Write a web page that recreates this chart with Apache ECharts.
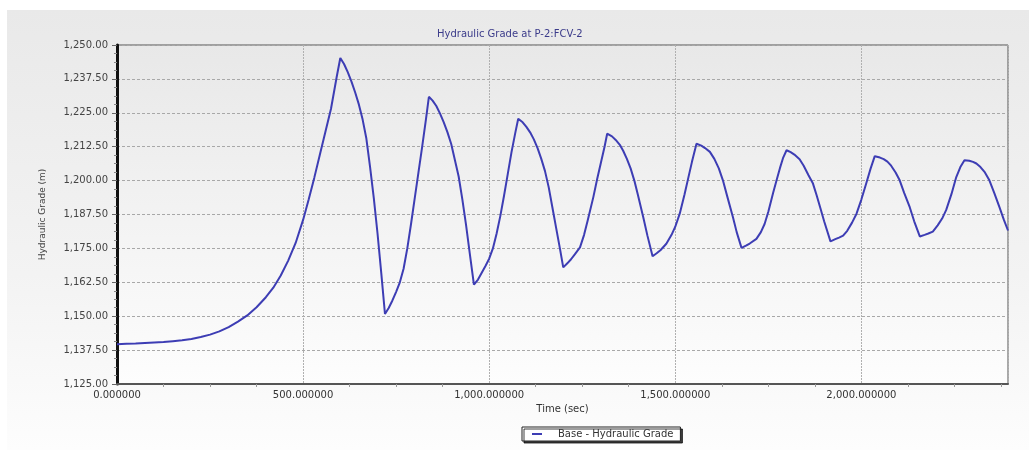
<!DOCTYPE html>
<html>
<head>
<meta charset="utf-8">
<script src="https://cdn.jsdelivr.net/npm/echarts@6/dist/echarts.min.js"></script>
<style>
  html, body { margin: 0; padding: 0; background: #ffffff; }
  #panel { position: absolute; left: 7px; top: 10px; width: 1022px; height: 440px;
           background: linear-gradient(to bottom, #e9e9e9 0%, #f3f3f3 60%, #fdfdfd 100%); }
  #chart { position: absolute; left: 0; top: 0; width: 1029px; height: 458px; }
</style>
</head>
<body>
<div id="panel"></div>
<div id="chart"></div>
<script>
// Time (sec)
var times = [
  0, 25, 50, 75, 100, 125, 150, 175, 200, 225, 250, 275, 300, 325, 350, 375, 400, 420, 440, 460,
  480, 500, 515, 530, 545, 560, 575, 590, 600,
  610, 620, 630, 640, 650, 660, 670, 680, 690, 700, 710, 720,
  730, 740, 750, 760, 770, 780, 790, 800, 810, 820, 830, 838,
  848, 858, 868, 878, 888, 898, 908, 918, 928, 938, 948, 959,
  970, 980, 990, 1000, 1010, 1020, 1030, 1040, 1050, 1060, 1070, 1078,
  1090, 1100, 1110, 1120, 1130, 1140, 1150, 1160, 1170, 1180, 1190, 1199,
  1210, 1220, 1230, 1244, 1255, 1265, 1280, 1290, 1300, 1310, 1317,
  1330, 1340, 1351, 1360, 1370, 1380, 1390, 1400, 1414, 1425, 1439,
  1450, 1460, 1476, 1490, 1500, 1512, 1525, 1535, 1545, 1557,
  1570, 1580, 1593, 1605, 1617, 1628, 1640, 1655, 1665, 1678,
  1690, 1700, 1718, 1730, 1740, 1750, 1763, 1772, 1781, 1790, 1799,
  1810, 1820, 1834, 1845, 1858, 1870, 1880, 1890, 1900, 1917,
  1930, 1940, 1951, 1962, 1975, 1987, 2000, 2013, 2025, 2036,
  2050, 2060, 2070, 2080, 2092, 2103, 2115, 2130, 2142, 2157,
  2170, 2180, 2192, 2205, 2217, 2228, 2242, 2255, 2266, 2277,
  2290, 2300, 2309, 2320, 2332, 2344, 2357, 2371, 2383, 2394];
// Hydraulic Grade (m)
var grades = [
  1139.7, 1139.8, 1139.9, 1140.1, 1140.3, 1140.5, 1140.8, 1141.1, 1141.6, 1142.3, 1143.2, 1144.4,
  1146.0, 1148.0, 1150.3, 1153.3, 1157.0, 1160.5, 1165.0, 1170.5,
  1177.0, 1185.5, 1193.0, 1201.0, 1209.5, 1218.0, 1226.5, 1238.0, 1245.2,
  1243.0, 1240.0, 1236.5, 1232.5, 1228.0, 1222.5, 1215.5, 1205.0, 1193.5, 1180.5, 1166.0, 1150.8,
  1153.0, 1155.8, 1159.0, 1162.5, 1167.5, 1175.0, 1184.0, 1193.5, 1203.0, 1212.5, 1222.5, 1230.9,
  1229.5, 1227.5, 1224.7, 1221.5, 1217.8, 1213.5, 1207.5, 1201.5, 1193.0, 1183.5, 1173.0, 1161.6,
  1163.5, 1166.0, 1168.5, 1171.2, 1175.0, 1180.5, 1187.0, 1194.5, 1202.5, 1210.5, 1217.5, 1222.8,
  1221.5, 1219.8, 1217.8, 1215.2, 1212.0, 1208.0, 1203.5, 1197.5, 1190.0, 1182.5, 1175.0, 1168.0,
  1169.5, 1171.0, 1172.8, 1175.4, 1180.0, 1185.5, 1194.0, 1200.5, 1206.5, 1212.5, 1217.3,
  1216.3, 1215.0, 1213.2, 1211.0, 1208.0, 1204.5, 1200.0, 1194.5, 1186.5, 1179.8, 1172.1,
  1173.2, 1174.3, 1176.7, 1180.0, 1183.0, 1187.8, 1195.0, 1201.0, 1207.0, 1213.6,
  1212.9, 1212.0, 1210.6, 1208.0, 1204.5, 1200.1, 1194.0, 1186.5, 1181.0, 1175.2,
  1176.0, 1176.8, 1178.5, 1181.0, 1184.0, 1188.5, 1195.5, 1200.0, 1204.5, 1208.5, 1211.2,
  1210.5, 1209.6, 1207.9, 1205.5, 1202.0, 1198.9, 1194.5, 1189.8, 1185.0, 1177.6,
  1178.4, 1179.0, 1179.7, 1181.5, 1184.5, 1187.8, 1193.0, 1198.9, 1204.5, 1209.0,
  1208.5, 1207.9, 1207.0, 1205.5, 1203.0, 1200.1, 1195.5, 1190.2, 1185.0, 1179.4,
  1180.0, 1180.5, 1181.2, 1183.5, 1186.0, 1189.2, 1195.0, 1201.3, 1205.0, 1207.5,
  1207.3, 1206.9, 1206.3, 1205.0, 1203.0, 1200.1, 1195.5, 1190.2, 1185.5, 1181.6];

var seriesName = 'Base - Hydraulic Grade';
var titleText = 'Hydraulic Grade at P-2:FCV-2';
var xName = 'Time (sec)';
var yName = 'Hydraulic Grade (m)';

var pts = times.map(function (t, i) { return [t, grades[i]]; });
var FONT = 'DejaVu Sans';

var chart = echarts.init(document.getElementById('chart'), null, { renderer: 'canvas' });
chart.setOption({
  backgroundColor: 'transparent',
  animation: false,
  title: {
    text: titleText,
    left: 437, top: 29, padding: 0,
    textStyle: { fontFamily: FONT, fontSize: 10, fontWeight: 'normal', color: '#3b3b8a' }
  },
  legend: {
    data: [seriesName],
    left: 522, top: 427,
    padding: [2, 7, 2, 10],
    itemWidth: 10, itemHeight: 2,
    icon: 'rect',
    backgroundColor: '#ffffff',
    borderColor: '#222222', borderWidth: 1, borderRadius: 0,
    shadowColor: 'rgba(0,0,0,0.75)', shadowBlur: 0, shadowOffsetX: 2, shadowOffsetY: 2,
    textStyle: { fontFamily: FONT, fontSize: 10, color: '#333', padding: [0, 0, 0, 11] }
  },
  grid: {
    left: 117, top: 45, right: 21, bottom: 74,
    show: true,
    borderColor: '#555', borderWidth: 1,
    backgroundColor: {
      type: 'linear', x: 0, y: 0, x2: 0, y2: 1,
      colorStops: [{ offset: 0, color: '#e8e8e8' }, { offset: 1, color: '#fdfdfd' }]
    }
  },
  xAxis: {
    type: 'value',
    min: 0, max: 2394, interval: 500,
    name: xName, nameLocation: 'middle', nameGap: 17,
    nameTextStyle: { fontFamily: FONT, fontSize: 10, color: '#333' },
    axisLine: { show: true, lineStyle: { color: '#555', width: 2 } },
    axisTick: { show: false },
    minorTick: { show: true, splitNumber: 4, length: 3, lineStyle: { color: '#999' } },
    axisLabel: {
      fontFamily: FONT, fontSize: 10, color: '#333', margin: 6,
      showMaxLabel: false,
      formatter: function (v) {
        return v.toLocaleString('en-US', { minimumFractionDigits: 6, maximumFractionDigits: 6 });
      }
    },
    splitLine: { show: true, lineStyle: { color: '#b0b0b0', type: [2, 1], width: 1 } }
  },
  yAxis: {
    type: 'value',
    min: 1125, max: 1250, interval: 12.5,
    name: yName, nameLocation: 'middle', nameGap: 70, nameRotate: 90,
    nameTextStyle: { fontFamily: FONT, fontSize: 9, color: '#444' },
    axisLine: { show: true, lineStyle: { color: '#111', width: 3 } },
    axisTick: { show: true, length: 5, lineStyle: { color: '#666' } },
    minorTick: { show: true, splitNumber: 4, length: 3, lineStyle: { color: '#888' } },
    axisLabel: {
      fontFamily: FONT, fontSize: 10, color: '#444', margin: 9,
      formatter: function (v) {
        return v.toLocaleString('en-US', { minimumFractionDigits: 2, maximumFractionDigits: 2 });
      }
    },
    splitLine: { show: true, lineStyle: { color: '#a8a8a8', type: [3, 2], width: 1 } }
  },
  series: [{
    name: seriesName,
    type: 'line',
    data: pts,
    showSymbol: false,
    smooth: false,
    lineStyle: { color: '#3d3db4', width: 2 },
    itemStyle: { color: '#3d3db4' }
  }]
});
</script>
</body>
</html>
